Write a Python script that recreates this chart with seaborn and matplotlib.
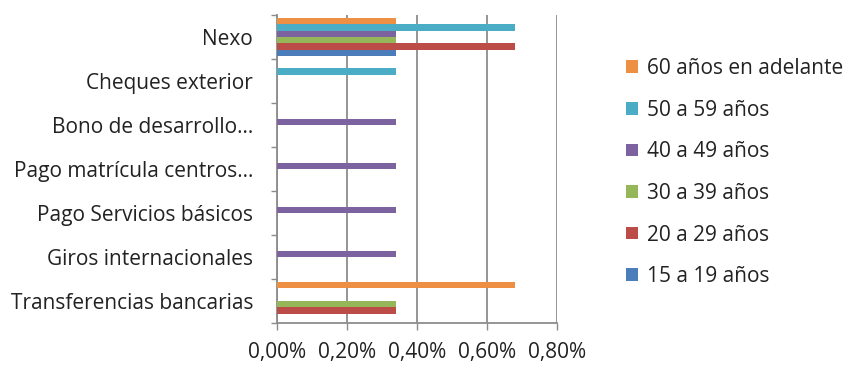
import matplotlib
matplotlib.use("Agg")
import matplotlib.pyplot as plt
from matplotlib.patches import Patch
from matplotlib.ticker import FuncFormatter, MultipleLocator
import pandas as pd
import seaborn as sns

# Services, listed top to bottom as drawn
servicios = [
    "Nexo",
    "Cheques exterior",
    "Bono de desarrollo...",
    "Pago matrícula centros...",
    "Pago Servicios básicos",
    "Giros internacionales",
    "Transferencias bancarias",
]

# Share of respondents (%) per age group, same order as servicios
edad_60_mas = [0.34, 0.00, 0.00, 0.00, 0.00, 0.00, 0.68]
edad_50_59 = [0.68, 0.34, 0.00, 0.00, 0.00, 0.00, 0.00]
edad_40_49 = [0.34, 0.00, 0.34, 0.34, 0.34, 0.34, 0.00]
edad_30_39 = [0.34, 0.00, 0.00, 0.00, 0.00, 0.00, 0.34]
edad_20_29 = [0.68, 0.00, 0.00, 0.00, 0.00, 0.00, 0.34]
edad_15_19 = [0.34, 0.00, 0.00, 0.00, 0.00, 0.00, 0.00]

grupos = [
    "60 años en adelante",
    "50 a 59 años",
    "40 a 49 años",
    "30 a 39 años",
    "20 a 29 años",
    "15 a 19 años",
]
series = [edad_60_mas, edad_50_59, edad_40_49, edad_30_39, edad_20_29, edad_15_19]
colores = ["#EE9044", "#4BACC6", "#7D62A0", "#95B75A", "#BC4C48", "#4A7DBA"]

rows = []
for grupo, valores in zip(grupos, series):
    for servicio, v in zip(servicios, valores):
        rows.append({"servicio": servicio, "grupo": grupo, "valor": v})
df = pd.DataFrame(rows)

sns.set_theme(style="white")
plt.rcParams["font.family"] = ["Open Sans", "DejaVu Sans"]

fig = plt.figure(figsize=(8.44, 3.67), dpi=100)
ax = fig.add_axes([0.328, 0.12, 0.332, 0.839])

sns.barplot(
    data=df, x="valor", y="servicio", hue="grupo",
    order=servicios, hue_order=grupos, palette=colores,
    orient="h", width=0.88, dodge=True, saturation=1, linewidth=0,
    errorbar=None, legend=False, ax=ax, zorder=3,
)

grid_color = "#8C8C8C"
text_color = "#222222"
fs = 15

ax.set_xlim(0, 0.8)
ax.xaxis.set_major_locator(MultipleLocator(0.2))
ax.xaxis.set_major_formatter(
    FuncFormatter(lambda v, _: f"{v:.2f}%".replace(".", ","))
)
ax.grid(axis="x", color=grid_color, linewidth=1.3, zorder=0)
ax.grid(axis="y", visible=False)

# category separators on the vertical axis
ax.set_ylim(len(servicios) - 0.5, -0.5)
ax.set_yticks([i + 0.5 for i in range(-1, len(servicios))], minor=True)
ax.tick_params(axis="y", which="major", length=0, pad=17,
               labelsize=fs, labelcolor=text_color)
ax.tick_params(axis="y", which="minor", length=4, width=1, color=grid_color,
               direction="out", left=True)
ax.tick_params(axis="x", which="major", length=5, width=1, color=grid_color,
               direction="out", bottom=True, pad=9,
               labelsize=fs, labelcolor=text_color)

for side in ("top", "right"):
    ax.spines[side].set_visible(False)
for side in ("left", "bottom"):
    ax.spines[side].set_color(grid_color)
    ax.spines[side].set_linewidth(1.3)

ax.set_xlabel("")
ax.set_ylabel("")

handles = [Patch(facecolor=c, edgecolor="none") for c in colores]
fig.legend(
    handles, grupos, loc="upper left", bbox_to_anchor=(0.72, 0.893),
    frameon=False, fontsize=fs, labelspacing=0.99,
    handlelength=0.55, handleheight=0.55, handletextpad=0.45,
    labelcolor=text_color,
)

fig.savefig("out.png", dpi=100)
